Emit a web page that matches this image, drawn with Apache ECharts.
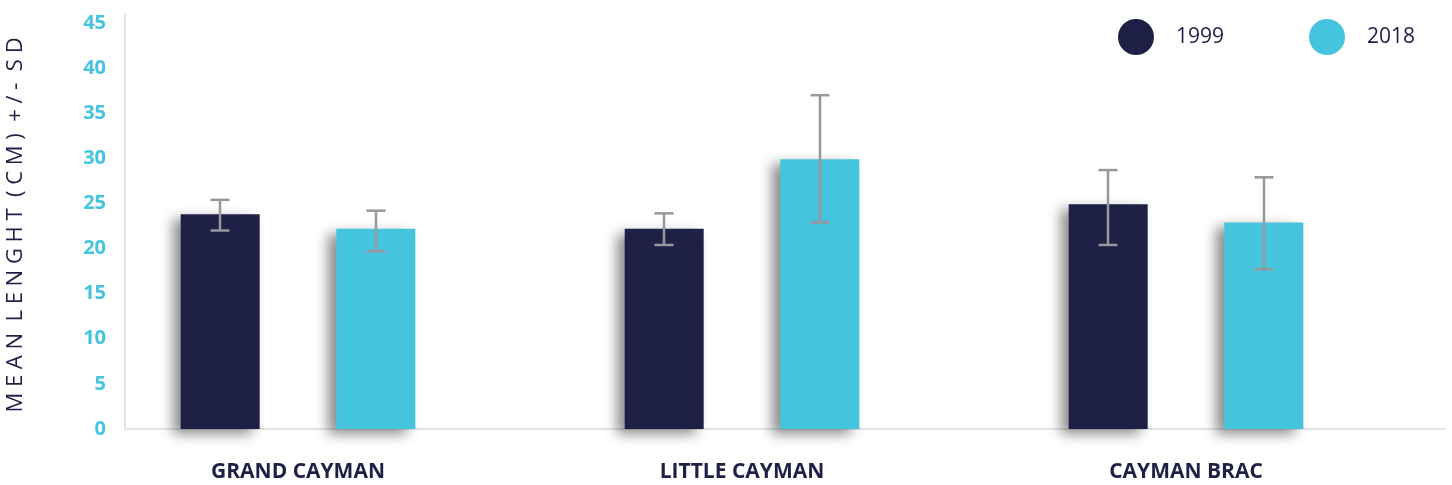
<!DOCTYPE html>
<html><head><meta charset="utf-8">
<script src="https://cdn.jsdelivr.net/npm/echarts@6/dist/echarts.min.js"></script>
<style>html,body{margin:0;padding:0;background:#fff;}#c{width:1452px;height:485px;}</style>
</head><body><div id="c"></div>
<script>
var categories = ['GRAND CAYMAN', 'LITTLE CAYMAN', 'CAYMAN BRAC'];
var seriesNames = ['1999', '2018'];
var mean1999 = [23.8, 22.2, 24.9];
var low1999 = [22.0, 20.4, 20.4];
var high1999 = [25.4, 23.9, 28.7];
var mean2018 = [22.2, 29.9, 22.9];
var low2018 = [19.7, 22.9, 17.7];
var high2018 = [24.2, 37.0, 27.9];
var yTicks = [0, 5, 10, 15, 20, 25, 30, 35, 40, 45];
var yAxisTitle = 'M E A N  L E N G H T  ( C M )  + / -  S D';

var NAVY = '#1F2046', CYAN = '#45C4DD', ERR = '#97979c';
var BAR_W = 79, OFFSET = 78;

function errData(lo, hi) {
  return lo.map(function (v, i) { return [i, v, hi[i]]; });
}
function errSeries(name, lo, hi, off) {
  return {
    type: 'custom', name: name + ' SD', xAxisIndex: 1, yAxisIndex: 1, z: 10,
    data: errData(lo, hi),
    renderItem: function (params, api) {
      var ci = api.value(0);
      var pHi = api.coord([ci, api.value(2)]);
      var pLo = api.coord([ci, api.value(1)]);
      var x = pHi[0] + off, cap = 9.5;
      var st = { stroke: ERR, lineWidth: 2.5 };
      return { type: 'group', children: [
        { type: 'line', shape: { x1: x, y1: pHi[1], x2: x, y2: pLo[1] }, style: st },
        { type: 'line', shape: { x1: x - cap, y1: pHi[1], x2: x + cap, y2: pHi[1] }, style: st },
        { type: 'line', shape: { x1: x - cap, y1: pLo[1], x2: x + cap, y2: pLo[1] }, style: st }
      ]};
    }
  };
}

var chart = echarts.init(document.getElementById('c'));
var yMax = 46;
chart.setOption({
  animation: false,
  legend: {
    data: seriesNames, left: 1113, top: 14, icon: 'circle',
    itemWidth: 36, itemHeight: 36, itemGap: 85,
    textStyle: { color: NAVY, fontSize: 21, fontFamily: 'Open Sans', padding: [0, 0, 0, 17] }
  },
  graphic: [{
    type: 'text', x: 16, y: 225, rotation: Math.PI / 2,
    style: { text: yAxisTitle, fill: NAVY, fontSize: 22, fontFamily: 'Open Sans',
      align: 'center', verticalAlign: 'middle' }
  }],
  grid: [
    { left: 125, right: 7, top: 14, bottom: 56 },
    { left: 76, right: 44, top: 14, bottom: 56 }
  ],
  xAxis: [
    { type: 'category', gridIndex: 0, data: [''], axisLine: { lineStyle: { color: '#e4e4e4', width: 2 } },
      axisTick: { show: false }, axisLabel: { show: false } },
    { type: 'category', gridIndex: 1, data: categories, axisLine: { show: false }, axisTick: { show: false },
      axisLabel: { color: NAVY, fontWeight: 'bold', fontSize: 21, fontFamily: 'Open Sans', margin: 33 } }
  ],
  yAxis: [
    { type: 'value', gridIndex: 0, min: 0, max: yMax, interval: 5,
      axisLine: { show: true, lineStyle: { color: '#e4e4e4', width: 2 } },
      axisTick: { show: false }, splitLine: { show: false },
      axisLabel: { color: CYAN, fontWeight: 'bold', fontSize: 20, fontFamily: 'Open Sans', margin: 19,
        formatter: function (v) { return yTicks.indexOf(v) >= 0 ? String(v) : ''; } } },
    { type: 'value', gridIndex: 1, min: 0, max: yMax, interval: 5, show: false, splitLine: { show: false } }
  ],
  series: [
    { type: 'bar', name: seriesNames[0], xAxisIndex: 1, yAxisIndex: 1, data: mean1999, barWidth: BAR_W, barGap: '97%',
      itemStyle: { color: NAVY, shadowBlur: 12, shadowColor: 'rgba(0,0,0,0.45)', shadowOffsetX: -8, shadowOffsetY: 5 } },
    { type: 'bar', name: seriesNames[1], xAxisIndex: 1, yAxisIndex: 1, data: mean2018, barWidth: BAR_W, barGap: '97%',
      itemStyle: { color: CYAN, shadowBlur: 12, shadowColor: 'rgba(0,0,0,0.45)', shadowOffsetX: -8, shadowOffsetY: 5 } },
    errSeries('1999', low1999, high1999, -OFFSET),
    errSeries('2018', low2018, high2018, OFFSET)
  ]
});
</script></body></html>
